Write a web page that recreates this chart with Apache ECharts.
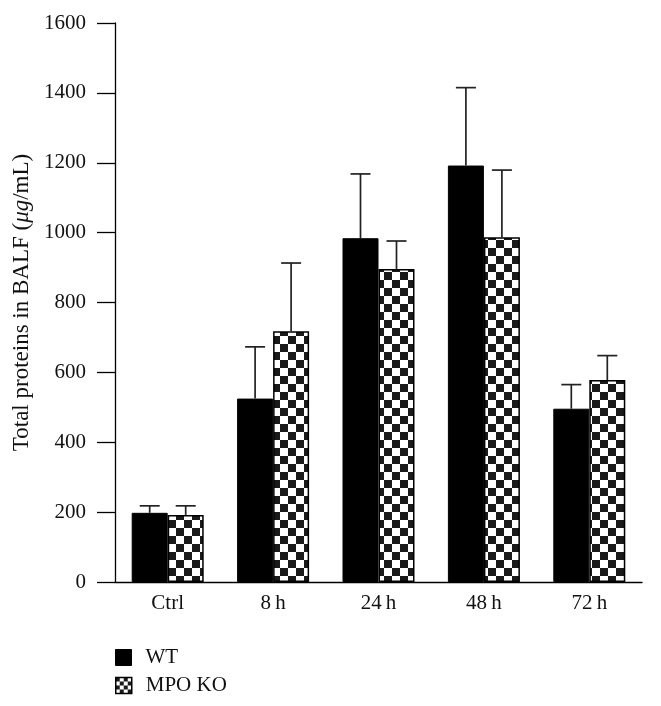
<!DOCTYPE html>
<html>
<head>
<meta charset="utf-8">
<script src="https://cdn.jsdelivr.net/npm/echarts@6/dist/echarts.min.js"></script>
<style>
html,body{margin:0;padding:0;background:#fff;}
#chart{width:661px;height:706px;}
</style>
</head>
<body>
<div id="chart"></div>
<script>
// ---- data ----
const categories = ['Ctrl', '8\u2009h', '24\u2009h', '48\u2009h', '72\u2009h'];
const seriesNames = ['WT', 'MPO KO'];
const wtMean = [198, 525, 984, 1192, 496];
const wtErr  = [20, 148, 184, 223, 69];
const koMean = [192, 718, 896, 987, 578];
const koErr  = [26, 195, 80, 192, 70];
const yTicks = { min: 0, max: 1600, interval: 200 };

// ---- styles ----
const FONT = '"Liberation Serif", "DejaVu Serif", serif';
const BAR_W = 36;

function checker(cell) {
  const c = document.createElement('canvas');
  c.width = c.height = cell * 2;
  const ctx = c.getContext('2d');
  ctx.fillStyle = '#ffffff';
  ctx.fillRect(0, 0, cell * 2, cell * 2);
  ctx.fillStyle = '#1a1a1a';
  ctx.fillRect(0, 0, cell, cell);
  ctx.fillRect(cell, cell, cell, cell);
  return c;
}
const barPattern = { image: checker(8), repeat: 'repeat' };
const iconPattern = { image: checker(4), repeat: 'repeat' };

function errData(mean, err) {
  return mean.map((m, i) => [i, m, err[i]]);
}
function errRenderer(offset) {
  return function (params, api) {
    const i = api.value(0), m = api.value(1), e = api.value(2);
    const base = api.coord([i, m]);
    const top = api.coord([i, m + e]);
    const x = base[0] + offset;
    const st = { stroke: '#222', lineWidth: 1.7 };
    return {
      type: 'group',
      children: [
        { type: 'line', shape: { x1: x, y1: base[1], x2: x, y2: top[1] }, style: st },
        { type: 'line', shape: { x1: x - 10, y1: top[1], x2: x + 10, y2: top[1] }, style: st }
      ]
    };
  };
}

function legendBox(name, top, style) {
  return {
    orient: 'vertical',
    left: 115,
    top: top,
    padding: 0,
    itemWidth: 16,
    itemHeight: 16,
    selectedMode: false,
    textStyle: { fontFamily: FONT, fontSize: 21, color: '#111', padding: [0, 0, 0, 9] },
    data: [{ name: name, icon: 'rect', itemStyle: style }]
  };
}

const chart = echarts.init(document.getElementById('chart'), null, { renderer: 'canvas' });
chart.setOption({
  backgroundColor: '#ffffff',
  animation: false,
  textStyle: { fontFamily: FONT },
  grid: { left: 115, top: 23, width: 527, height: 559 },
  legend: [
    legendBox(seriesNames[0], 647, { color: '#000', borderColor: '#000', borderWidth: 1 }),
    legendBox(seriesNames[1], 675, { color: iconPattern, borderColor: '#000', borderWidth: 1.5 })
  ],
  xAxis: {
    type: 'category',
    data: categories,
    axisLine: { show: true, lineStyle: { color: '#000', width: 1.3 } },
    axisTick: { show: false },
    axisLabel: { fontFamily: FONT, fontSize: 21, color: '#111', margin: 11 },
    splitLine: { show: false }
  },
  yAxis: {
    type: 'value',
    min: yTicks.min,
    max: yTicks.max,
    interval: yTicks.interval,
    name: '{n|Total proteins in BALF (}{i|μg}{n|/mL)}',
    nameLocation: 'middle',
    nameGap: 82,
    nameRotate: 90,
    nameTextStyle: {
      rich: {
        n: { fontFamily: FONT, fontSize: 23, color: '#111' },
        i: { fontFamily: FONT, fontSize: 23, color: '#111', fontStyle: 'italic' }
      }
    },
    axisLine: { show: true, lineStyle: { color: '#000', width: 1.3 } },
    axisTick: { show: true, inside: false, length: 18, lineStyle: { color: '#000', width: 1.3 } },
    axisLabel: { fontFamily: FONT, fontSize: 21, color: '#111', margin: 29, formatter: v => String(v) },
    splitLine: { show: false }
  },
  series: [
    {
      name: seriesNames[0],
      type: 'bar',
      data: wtMean,
      barWidth: BAR_W,
      barGap: '0%',
      itemStyle: { color: '#000', borderColor: '#000', borderWidth: 1 },
      z: 2
    },
    {
      name: seriesNames[1],
      type: 'bar',
      data: koMean,
      barWidth: BAR_W,
      barGap: '0%',
      itemStyle: { color: barPattern, borderColor: '#000', borderWidth: 1.5 },
      z: 2
    },
    {
      name: 'WT err',
      type: 'custom',
      data: errData(wtMean, wtErr),
      renderItem: errRenderer(-BAR_W / 2),
      encode: { x: 0, y: [1, 2] },
      z: 3
    },
    {
      name: 'KO err',
      type: 'custom',
      data: errData(koMean, koErr),
      renderItem: errRenderer(BAR_W / 2),
      encode: { x: 0, y: [1, 2] },
      z: 3
    }
  ]
});
</script>
</body>
</html>
